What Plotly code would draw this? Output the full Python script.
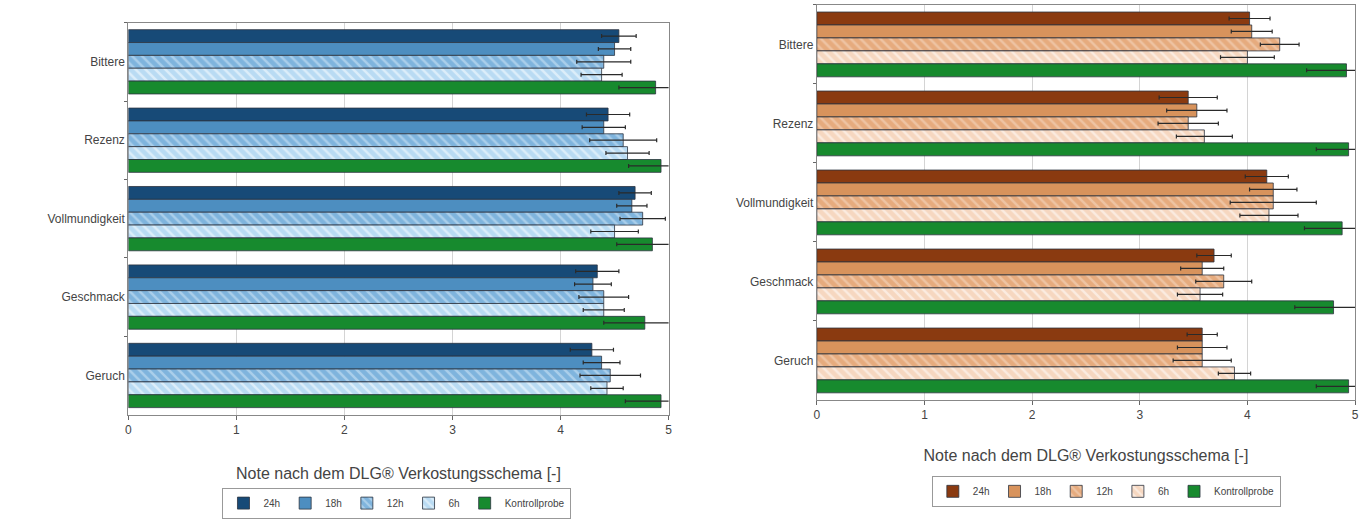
import plotly.graph_objects as go

categories = ["Bittere", "Rezenz", "Vollmundigkeit", "Geschmack", "Geruch"]
series_names = ["24h", "18h", "12h", "6h", "Kontrollprobe"]

# Left chart (blue)
left_24h = [4.54, 4.44, 4.69, 4.34, 4.29]
left_24h_err = [0.16, 0.20, 0.15, 0.20, 0.20]
left_18h = [4.50, 4.40, 4.66, 4.30, 4.38]
left_18h_err = [0.15, 0.20, 0.14, 0.17, 0.17]
left_12h = [4.40, 4.58, 4.76, 4.40, 4.46]
left_12h_err = [0.25, 0.31, 0.21, 0.23, 0.28]
left_6h = [4.38, 4.62, 4.50, 4.40, 4.43]
left_6h_err = [0.19, 0.20, 0.22, 0.19, 0.15]
left_ctrl = [4.88, 4.93, 4.85, 4.78, 4.93]
left_ctrl_err = [0.34, 0.30, 0.33, 0.38, 0.33]

# Right chart (brown)
right_24h = [4.02, 3.45, 4.18, 3.69, 3.58]
right_24h_err = [0.19, 0.27, 0.20, 0.16, 0.14]
right_18h = [4.04, 3.53, 4.24, 3.58, 3.58]
right_18h_err = [0.19, 0.28, 0.22, 0.20, 0.23]
right_12h = [4.30, 3.45, 4.24, 3.78, 3.58]
right_12h_err = [0.18, 0.28, 0.40, 0.26, 0.27]
right_6h = [4.00, 3.60, 4.20, 3.56, 3.88]
right_6h_err = [0.25, 0.26, 0.27, 0.21, 0.15]
right_ctrl = [4.92, 4.94, 4.88, 4.80, 4.94]
right_ctrl_err = [0.37, 0.30, 0.35, 0.36, 0.30]

x_title = "Note nach dem DLG® Verkostungsschema [-]"

left_vals = [left_24h, left_18h, left_12h, left_6h, left_ctrl]
left_errs = [left_24h_err, left_18h_err, left_12h_err, left_6h_err, left_ctrl_err]
right_vals = [right_24h, right_18h, right_12h, right_6h, right_ctrl]
right_errs = [right_24h_err, right_18h_err, right_12h_err, right_6h_err, right_ctrl_err]

left_colors = ["#174a77", "#4d8ec0", "#7fb4dd", "#b9dbf3", "#178a2e"]
left_pat_fg = [None, None, "#d6e9f7", "#ffffff", None]
right_colors = ["#8a3a10", "#d8935c", "#e6ab7e", "#f6d7c0", "#178a2e"]
right_pat_fg = [None, None, "#f6dcc8", "#ffffff", None]
patterns = ["", "", "\\", "\\", ""]

fig = go.Figure()

def add_series(vals, errs, colors, fgs, xa, ya, legend):
    for i, name in enumerate(series_names):
        pat = dict(shape=patterns[i])
        if patterns[i]:
            pat.update(fgcolor=fgs[i], size=7, solidity=0.35)
        fig.add_trace(go.Bar(
            y=categories, x=vals[i], name=name, orientation="h",
            xaxis=xa, yaxis=ya, legend=legend,
            marker=dict(color=colors[i], pattern=pat,
                        line=dict(color="#2c3440", width=0.8)),
            error_x=dict(type="data", array=errs[i], color="#2a2a2a",
                         thickness=1.2, width=2),
        ))

add_series(left_vals, left_errs, left_colors, left_pat_fg, "x", "y", "legend")
add_series(right_vals, right_errs, right_colors, right_pat_fg, "x2", "y2", "legend2")

W, H = 1371, 519
def px(xs):
    return xs / W
def py(ys):
    return 1 - ys / H

axis_common = dict(showline=True, linecolor="#888888", linewidth=1.2, mirror=True,
                   tickfont=dict(family="Liberation Sans, Arial", size=12, color="#444"))
def xaxis_cfg(standoff):
    return dict(axis_common, range=[0, 5], dtick=1, showgrid=True,
                gridcolor="#d4d4d4", gridwidth=1, ticks="outside", ticklen=4,
                tickcolor="#666", zeroline=False,
                title=dict(text=x_title, font=dict(family="Liberation Sans, Arial",
                                                   size=16, color="#444"),
                           standoff=standoff))
ycommon = dict(axis_common, autorange="reversed", ticks="outside",
               tickson="boundaries", ticklen=3, tickcolor="#666", showgrid=False)

leg_font = dict(family="Liberation Sans, Arial", size=10, color="#444")
fig.update_layout(
    width=W, height=H, margin=dict(l=0, r=0, t=0, b=0),
    plot_bgcolor="white", paper_bgcolor="white",
    barmode="group", bargap=0.18, bargroupgap=0.0,
    xaxis=dict(xaxis_cfg(31), domain=[px(126), px(669)], anchor="y"),
    yaxis=dict(ycommon, domain=[py(422), py(23)], anchor="x"),
    xaxis2=dict(xaxis_cfg(28), domain=[px(818), px(1359)], anchor="y2"),
    yaxis2=dict(ycommon, domain=[py(407), py(5)], anchor="x2"),
    legend=dict(orientation="h", x=px(396), y=py(512), xanchor="center",
                yanchor="middle", bordercolor="#999", borderwidth=1,
                font=leg_font, itemwidth=30, tracegroupgap=0),
    legend2=dict(orientation="h", x=px(1109), y=py(500), xanchor="center",
                 yanchor="middle", bordercolor="#999", borderwidth=1,
                 font=leg_font, itemwidth=30, tracegroupgap=0),
    font=dict(family="Liberation Sans, Arial", color="#444"),
)

fig.write_html("out.html", config={"displayModeBar": False},
               post_script="document.body.style.margin='0';"
                           "document.body.style.overflow='hidden';")
